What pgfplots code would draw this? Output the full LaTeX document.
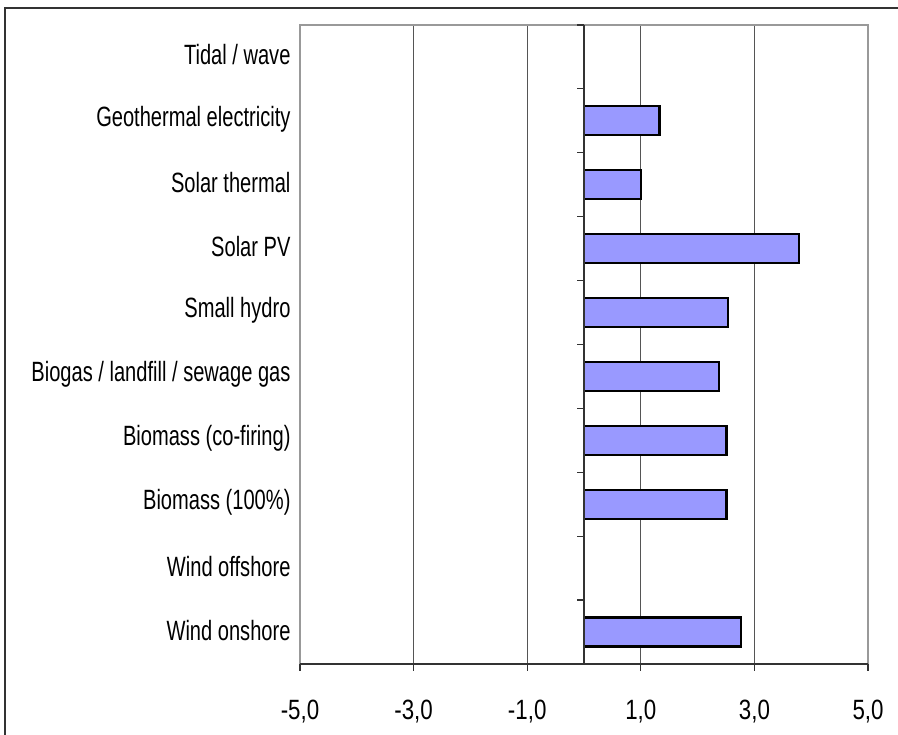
\documentclass[border=0pt]{standalone}
\usepackage{fontspec}
\setmainfont{Liberation Sans}[FakeStretch=0.72]
\newfontfamily\tickfont{Liberation Sans}[FakeStretch=0.8]
\usepackage{pgfplots}
\pgfplotsset{compat=1.18}
\definecolor{barblue}{HTML}{9999FF}
\definecolor{gridgray}{HTML}{555555}
\definecolor{framegray}{HTML}{999999}
\definecolor{axisdark}{HTML}{333333}

\begin{document}
\begin{tikzpicture}[x=1bp,y=1bp]
\useasboundingbox (0,0) rectangle (898,735);
\draw[line width=2bp, color=axisdark] (5,0) -- (5,727) -- (898,727);
\begin{axis}[at={(300bp,71bp)}, anchor=south west, scale only axis,
  width=568bp, height=639bp,
  xmin=-5, xmax=5, ymin=-0.5, ymax=9.5,
  axis line style={framegray, line width=1.8bp},
  xtick={-3,-1,1,3}, xticklabels={}, xmajorgrids,
  grid style={gridgray, line width=0.9bp},
  major tick length=0pt,
  ytick={0,...,9},
  yticklabels={Wind onshore, Wind offshore, Biomass (100\%), Biomass (co-firing), Biogas / landfill / sewage gas, Small hydro, Solar PV, Solar thermal, Geothermal electricity, Tidal / wave},
  yticklabel style={font=\fontsize{28}{32}\selectfont, xshift=-6bp, yshift=2bp},
  xbar, bar width=29bp,
]
\addplot[fill=barblue, draw=black, line width=2.2bp] coordinates {
  (2.76,0) (2.51,2) (2.51,3) (2.38,4) (2.54,5) (3.79,6) (1.00,7) (1.33,8)};
\end{axis}
\begin{axis}[at={(300bp,71bp)}, anchor=south west, scale only axis,
  width=568bp, height=639bp,
  xmin=-5, xmax=5, ymin=-0.5, ymax=9.5,
  axis x line=bottom, axis y line=center,
  axis line style={-},
  x axis line style={axisdark, line width=1.8bp},
  y axis line style={axisdark, line width=1.2bp},
  xtick={-5,-3,-1,1,3,5},
  ytick={-0.5,0.5,...,9.5}, yticklabels={},
  tick align=outside, major tick length=7bp,
  tick style={axisdark, line width=1.2bp},
  /pgf/number format/fixed, /pgf/number format/fixed zerofill,
  /pgf/number format/precision=1, /pgf/number format/use comma,
  /pgf/number format/assume math mode=true,
  xticklabel style={font=\tickfont\fontsize{28}{32}\selectfont, yshift=-26bp},
]
\end{axis}
\end{tikzpicture}
\end{document}
